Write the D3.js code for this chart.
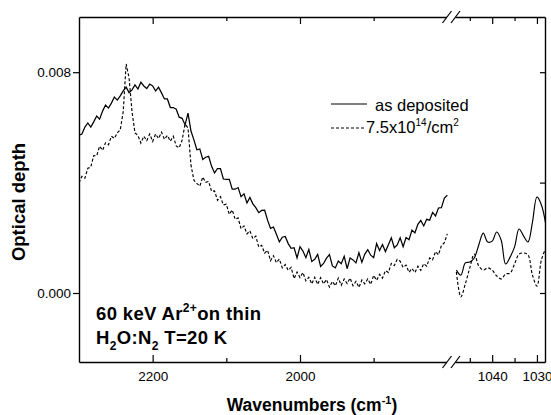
<!DOCTYPE html>
<html>
<head>
<meta charset="utf-8">
<script src="https://cdn.jsdelivr.net/npm/d3@7"></script>
<style>
body { margin: 0; background: #fff; }
text { font-family: Arial, "Liberation Sans", Helvetica, sans-serif; white-space: pre; }
</style>
</head>
<body>
<div id="main"></div>
<script>
// wavenumber grid of the 2300-1800 part, one point every 4 cm-1
let wnLeft = d3.range(2300, 1799, -4);

// optical depth, as deposited film (2300 -> 1800 cm-1)
let depositedLeft = [
  0.00572,0.00576,0.00601,0.00616,0.00601,0.00620,0.00641,0.00630,0.00659,0.00681,
  0.00670,0.00688,0.00710,0.00699,0.00714,0.00732,0.00746,0.00726,0.00736,0.00754,
  0.00739,0.00764,0.00750,0.00741,0.00757,0.00750,0.00732,0.00746,0.00725,0.00703,
  0.00703,0.00672,0.00672,0.00666,0.00637,0.00633,0.00609,0.00652,0.00587,0.00555,
  0.00519,0.00522,0.00484,0.00492,0.00495,0.00459,0.00435,0.00451,0.00451,0.00413,
  0.00412,0.00412,0.00376,0.00376,0.00382,0.00349,0.00359,0.00326,0.00346,0.00323,
  0.00309,0.00291,0.00299,0.00300,0.00264,0.00234,0.00239,0.00213,0.00185,0.00202,
  0.00205,0.00179,0.00162,0.00164,0.00127,0.00168,0.00152,0.00128,0.00158,0.00114,
  0.00122,0.00140,0.00096,0.00107,0.00126,0.00139,0.00098,0.00091,0.00116,0.00106,
  0.00133,0.00088,0.00127,0.00120,0.00109,0.00146,0.00111,0.00141,0.00157,0.00137,
  0.00128,0.00179,0.00154,0.00176,0.00150,0.00175,0.00200,0.00164,0.00174,0.00200,
  0.00168,0.00201,0.00193,0.00228,0.00218,0.00249,0.00263,0.00243,0.00267,0.00264,
  0.00292,0.00279,0.00308,0.00309,0.00344,0.00354
];

// optical depth after 7.5x10^14 ions/cm2
let irradiatedLeft = [
  0.00399,0.00423,0.00416,0.00452,0.00456,0.00498,0.00497,0.00532,0.00517,0.00544,
  0.00537,0.00568,0.00560,0.00580,0.00591,0.00656,0.00830,0.00779,0.00656,0.00580,
  0.00571,0.00543,0.00568,0.00552,0.00576,0.00549,0.00576,0.00560,0.00583,0.00557,
  0.00571,0.00550,0.00568,0.00533,0.00526,0.00554,0.00612,0.00598,0.00464,0.00409,
  0.00397,0.00387,0.00420,0.00401,0.00404,0.00368,0.00370,0.00336,0.00349,0.00319,
  0.00322,0.00285,0.00301,0.00267,0.00272,0.00233,0.00243,0.00214,0.00225,0.00197,
  0.00206,0.00167,0.00173,0.00144,0.00155,0.00117,0.00135,0.00110,0.00123,0.00091,
  0.00103,0.00082,0.00093,0.00052,0.00076,0.00056,0.00074,0.00044,0.00057,0.00033,
  0.00057,0.00031,0.00056,0.00033,0.00049,0.00021,0.00042,0.00026,0.00054,0.00028,
  0.00051,0.00034,0.00054,0.00026,0.00042,0.00020,0.00047,0.00033,0.00051,0.00031,
  0.00064,0.00046,0.00068,0.00054,0.00081,0.00074,0.00107,0.00099,0.00122,0.00115,
  0.00093,0.00101,0.00075,0.00089,0.00074,0.00097,0.00082,0.00106,0.00097,0.00127,
  0.00120,0.00150,0.00138,0.00172,0.00182,0.00214
];

// the 1048-1028 cm-1 part, one point per cm-1
let wnRight = [1048,1047,1046,1045,1044,1043,1042,1041,1040,1039,1038,
               1037,1036,1035,1034,1033,1032,1031,1030,1029,1028];
let depositedRight = [0.00083,0.00065,0.00109,0.00112,0.00127,0.00174,0.00217,
                      0.00185,0.00188,0.00221,0.00192,0.00105,0.00130,0.00167,
                      0.00232,0.00207,0.00185,0.00257,0.00348,0.00319,0.00246];
let irradiatedRight = [0.00076,-0.00014,0.00033,0.00091,0.00141,0.00098,0.00083,
                       0.00091,0.00083,0.00062,0.00051,0.00069,0.00072,0.00105,
                       0.00141,0.00145,0.00138,0.00065,0.00025,0.00120,0.00163];

let ticksLeft = [2200, 2100, 2000, 1900];
let ticksRight = [1045, 1040, 1035, 1030];
let labelsBottom = [2200, 2000, 1040, 1030];
let yLabelTicks = [0, 0.008];
let yRightTicks = [0, 0.004, 0.008];

let W = 551, H = 415;
let x0 = 79, x1 = 545, breakX = 451, yTop = 17, yBot = 362;
let font = 'Arial, "Liberation Sans", Helvetica, sans-serif';

let svg = d3.select("#main").append("svg")
    .attr("width", W)
    .attr("height", H);

let xL = d3.scaleLinear().domain([2300, 1795]).range([x0, breakX]);
let xR = d3.scaleLinear().domain([1049.2, 1028.2]).range([breakX, x1]);
let y = d3.scaleLinear().domain([-0.0025, 0.01]).range([yBot, yTop]);

let defs = svg.append("defs");
defs.append("clipPath").attr("id", "clipL").append("rect")
    .attr("x", x0).attr("y", yTop).attr("width", breakX - x0).attr("height", yBot - yTop);
defs.append("clipPath").attr("id", "clipR").append("rect")
    .attr("x", breakX).attr("y", yTop).attr("width", x1 - breakX).attr("height", yBot - yTop);

let leftData = (vals) => vals.map((v, i) => ({wn: wnLeft[i], v: v}));
let rightData = (vals) => vals.map((v, i) => ({wn: wnRight[i], v: v}));

let lineL = d3.line().x(d => xL(d.wn)).y(d => y(d.v));
let lineR = d3.line().x(d => xR(d.wn)).y(d => y(d.v)).curve(d3.curveCatmullRom.alpha(0.5));

let series = [
  {left: depositedLeft, right: depositedRight, dash: null, w: 1.25},
  {left: irradiatedLeft, right: irradiatedRight, dash: "3,2", w: 1.15}
];

series.forEach(s => {
  svg.append("path")
    .attr("clip-path", "url(#clipL)")
    .attr("d", lineL(leftData(s.left)))
    .attr("fill", "none").attr("stroke", "#000").attr("stroke-width", s.w)
    .attr("stroke-dasharray", s.dash);
  svg.append("path")
    .attr("clip-path", "url(#clipR)")
    .attr("d", lineR(rightData(s.right)))
    .attr("fill", "none").attr("stroke", "#000").attr("stroke-width", 1.15)
    .attr("stroke-dasharray", s.dash);
});

// axes
function styleAxis(g) {
  g.attr("font-family", font).attr("font-size", 13.5);
  g.selectAll("path.domain").attr("stroke-width", 1.4);
  g.selectAll(".tick line").attr("stroke-width", 1.2);
}

let major = d => labelsBottom.includes(d);

[[xL, ticksLeft], [xR, ticksRight]].forEach(([sc, tv]) => {
  // top, ticks pointing down into the plot
  svg.append("g")
    .attr("transform", `translate(0,${yTop})`)
    .call(d3.axisBottom(sc).tickValues(tv).tickFormat("").tickSizeOuter(0))
    .call(styleAxis)
    .selectAll(".tick line").attr("y2", d => major(d) ? 7 : 4);
  // bottom, ticks pointing up, labels below
  svg.append("g")
    .attr("transform", `translate(0,${yBot})`)
    .call(d3.axisBottom(sc).tickValues(tv).tickSizeInner(-7).tickSizeOuter(0).tickPadding(9)
      .tickFormat(d => major(d) ? d : ""))
    .call(styleAxis)
    .selectAll(".tick line").attr("y2", d => major(d) ? -7 : -4);
});

svg.append("g")
  .attr("transform", `translate(${x0},0)`)
  .call(d3.axisLeft(y).tickValues(yLabelTicks).tickSize(6).tickPadding(2)
    .tickFormat(d3.format(".3f")).tickSizeOuter(0))
  .call(styleAxis);

svg.append("g")
  .attr("transform", `translate(${x1},0)`)
  .call(d3.axisLeft(y).tickValues(yRightTicks).tickSize(5).tickFormat("").tickSizeOuter(0))
  .call(styleAxis);

// axis break marks
[yTop, yBot].forEach(yy => {
  svg.append("rect")
    .attr("x", 447).attr("y", yy - 2).attr("width", 8.5).attr("height", 4)
    .attr("fill", "#fff");
  [447, 455.5].forEach(cx => {
    svg.append("line")
      .attr("x1", cx - 4.5).attr("y1", yy + 6)
      .attr("x2", cx + 4.5).attr("y2", yy - 6)
      .attr("stroke", "#000").attr("stroke-width", 1.2);
  });
});

// axis titles
svg.append("text")
  .attr("x", 312).attr("y", 411)
  .attr("text-anchor", "middle")
  .attr("font-size", 17.5).attr("font-weight", "bold")
  .call(t => {
    t.append("tspan").text("Wavenumbers (cm");
    t.append("tspan").attr("font-size", 11).attr("dy", -7).text("-1");
    t.append("tspan").attr("dy", 7).text(")");
  });

svg.append("text")
  .attr("transform", "translate(25,202) rotate(-90)")
  .attr("text-anchor", "middle")
  .attr("font-size", 18.5).attr("font-weight", "bold")
  .text("Optical depth");

// legend
svg.append("line").attr("x1", 331).attr("x2", 367).attr("y1", 104).attr("y2", 104)
  .attr("stroke", "#000").attr("stroke-width", 1.2);
svg.append("text").attr("x", 375).attr("y", 110.5).attr("font-size", 16.5)
  .text("as deposited");
svg.append("line").attr("x1", 331).attr("x2", 365).attr("y1", 128).attr("y2", 128)
  .attr("stroke", "#000").attr("stroke-width", 1).attr("stroke-dasharray", "3,2");
svg.append("text").attr("x", 366).attr("y", 133).attr("font-size", 16.5)
  .call(t => {
    t.append("tspan").text("7.5x10");
    t.append("tspan").attr("font-size", 10).attr("dy", -7).text("14");
    t.append("tspan").attr("dy", 7).text("/cm");
    t.append("tspan").attr("font-size", 10).attr("dy", -7).text("2");
  });

// annotation
svg.append("text").attr("x", 96).attr("y", 320)
  .attr("font-size", 18.5).attr("font-weight", "bold").attr("letter-spacing", 0.35)
  .call(t => {
    t.append("tspan").text("60 keV Ar");
    t.append("tspan").attr("font-size", 12).attr("dy", -8).text("2+");
    t.append("tspan").attr("dy", 8).text("on thin");
  });
svg.append("text").attr("x", 96).attr("y", 344)
  .attr("font-size", 18.5).attr("font-weight", "bold").attr("letter-spacing", 0.35)
  .call(t => {
    t.append("tspan").text("H");
    t.append("tspan").attr("font-size", 12).attr("dy", 6).text("2");
    t.append("tspan").attr("dy", -6).text("O:N");
    t.append("tspan").attr("font-size", 12).attr("dy", 6).text("2");
    t.append("tspan").attr("dy", -6).text(" T=20 K");
  });
</script>
</body>
</html>
